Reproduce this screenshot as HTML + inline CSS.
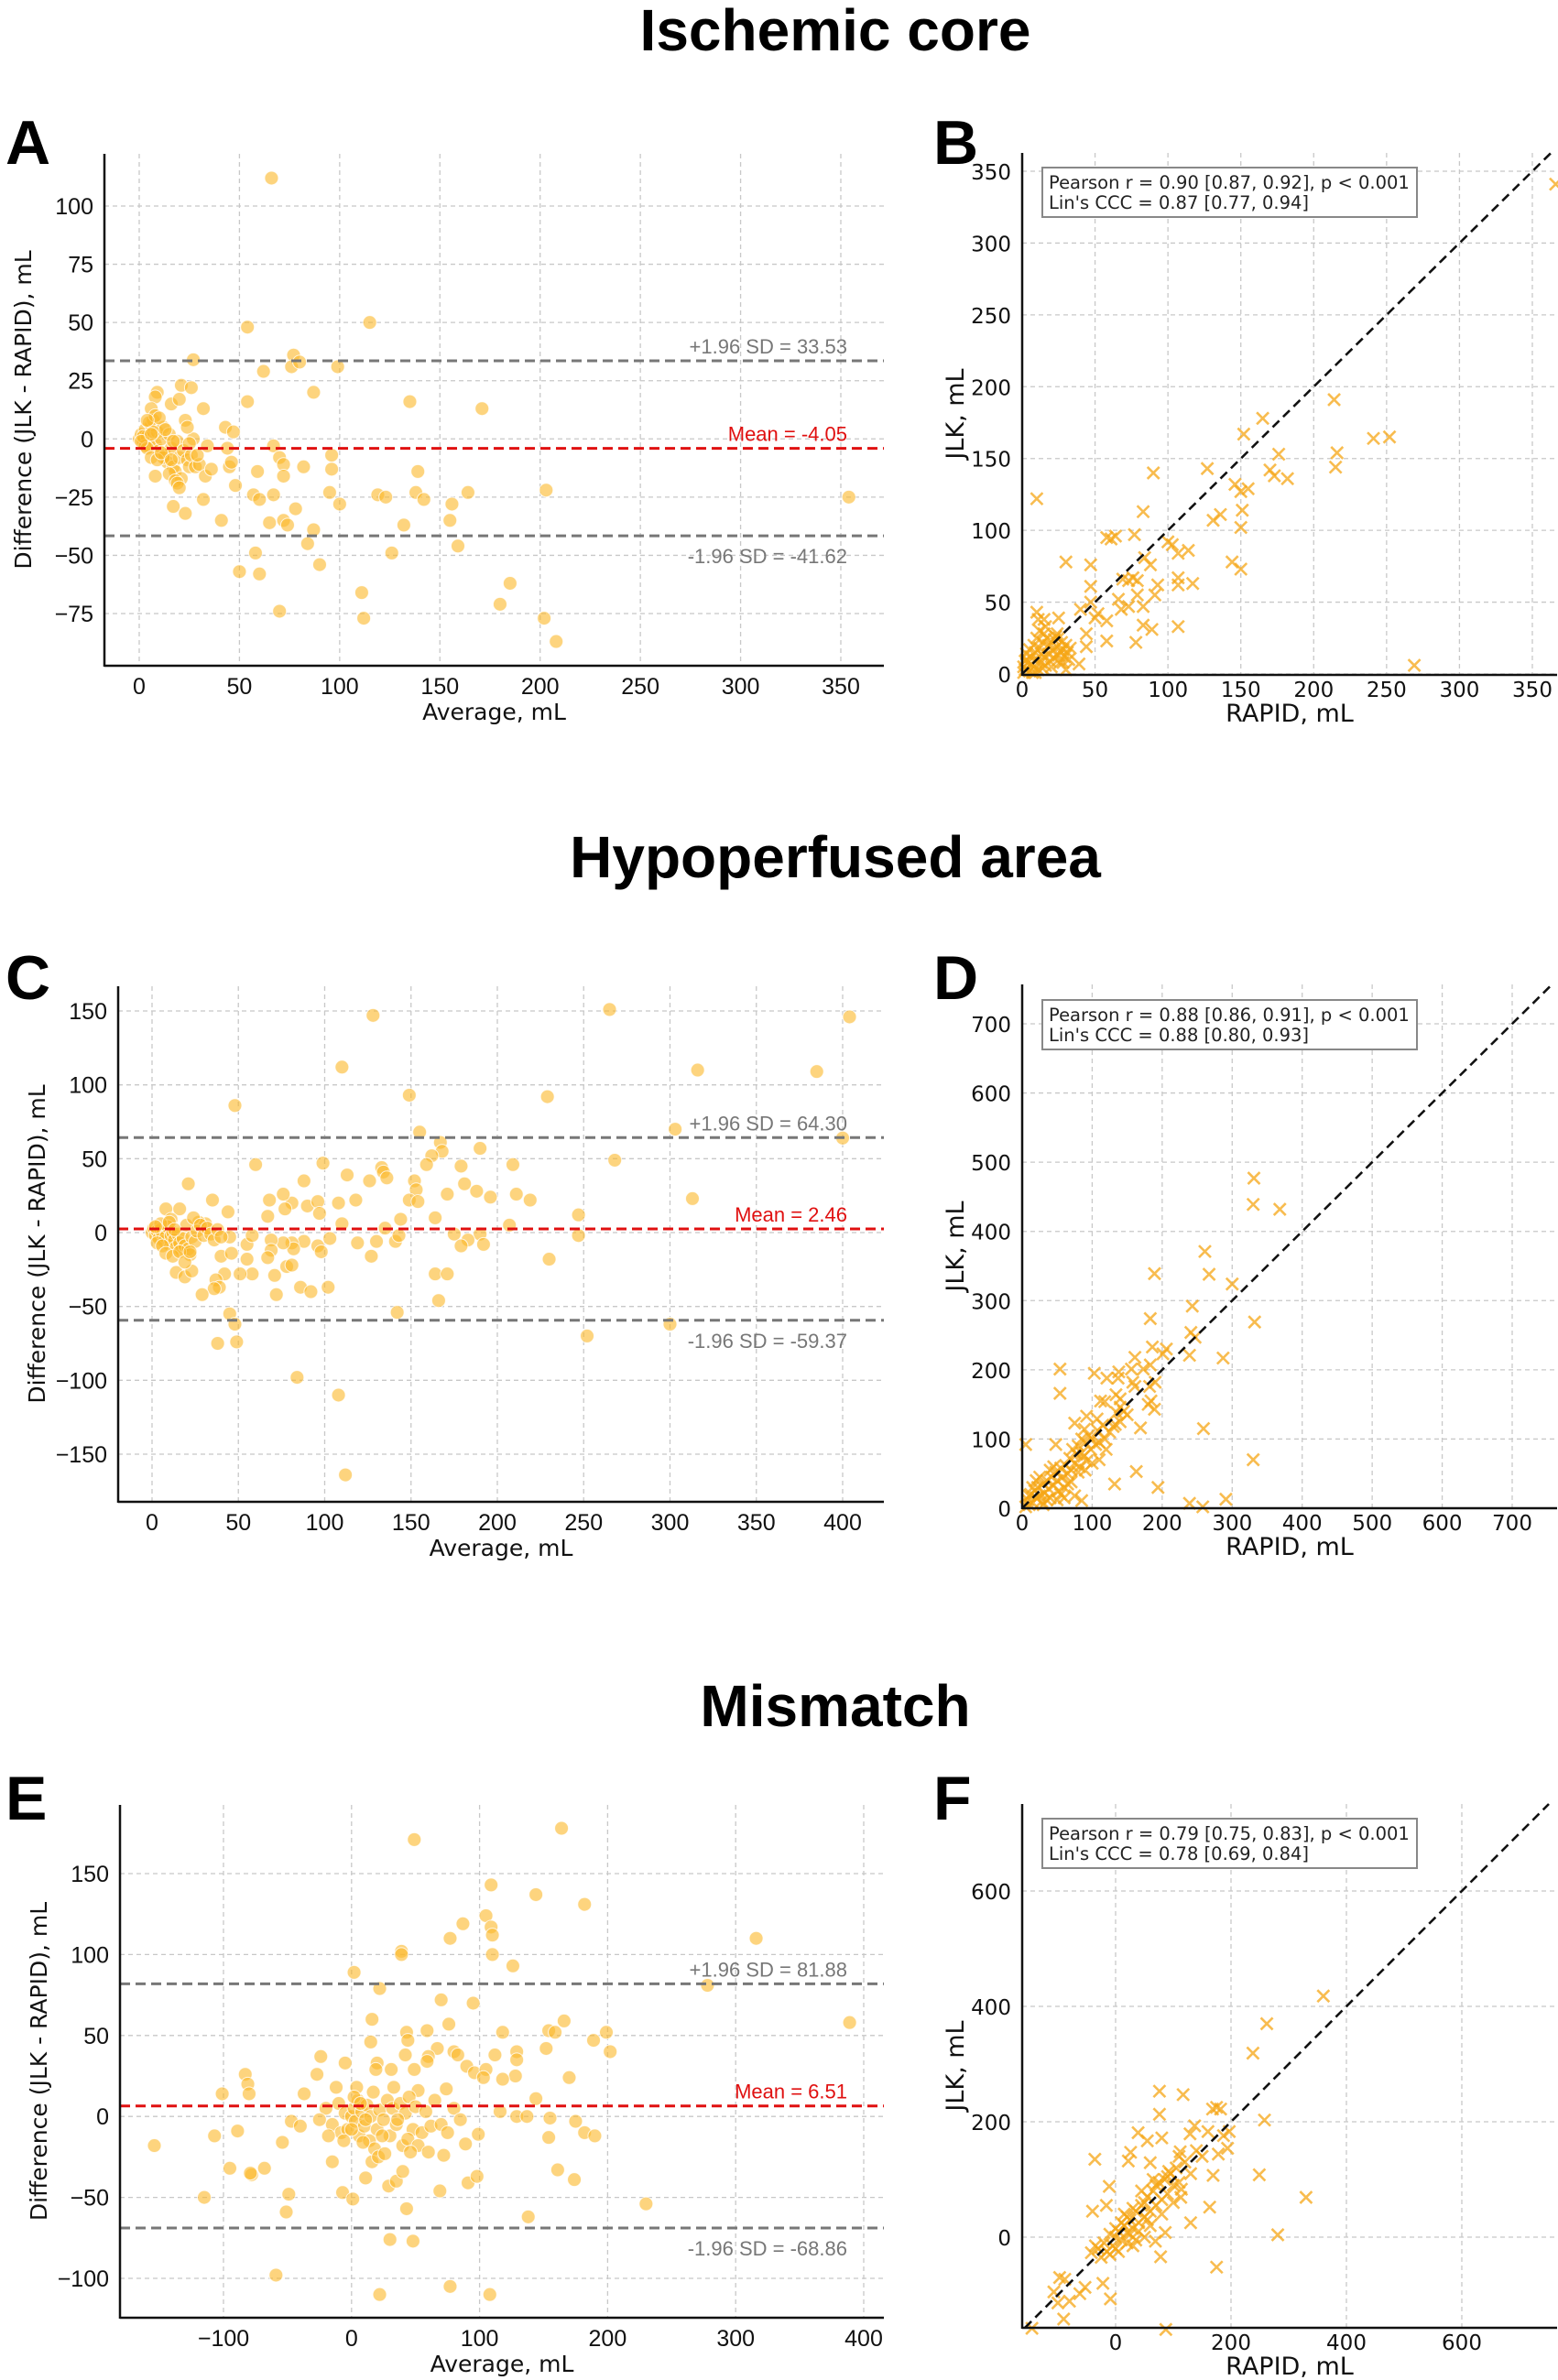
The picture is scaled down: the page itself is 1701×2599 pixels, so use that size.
<!DOCTYPE html>
<html>
<head>
<meta charset="utf-8">
<style>
html,body{margin:0;padding:0;background:#fff;}
svg{display:block;}
</style>
</head>
<body>
<svg id="fig" width="1701" height="2599" viewBox="0 0 1701 2599" xmlns="http://www.w3.org/2000/svg" font-family="'Liberation Sans', sans-serif">
<rect width="1701" height="2599" fill="#fff"/>
<text x="912" y="55" text-anchor="middle" font-size="64" font-weight="bold">Ischemic core</text>
<text x="912" y="958" text-anchor="middle" font-size="64" font-weight="bold">Hypoperfused area</text>
<text x="912" y="1885" text-anchor="middle" font-size="64" font-weight="bold">Mismatch</text>
<text x="6" y="179" font-size="68" font-weight="bold">A</text>
<text x="1019" y="179" font-size="68" font-weight="bold">B</text>
<text x="6" y="1091" font-size="68" font-weight="bold">C</text>
<text x="1019" y="1091" font-size="68" font-weight="bold">D</text>
<text x="6" y="1987" font-size="68" font-weight="bold">E</text>
<text x="1019" y="1987" font-size="68" font-weight="bold">F</text>
</svg>
<script>
// ---------- Panel A data (Bland-Altman, ischemic core) ----------
const aAvg = [66,54,115,27,77,76,80,62,99,21,26,87,54,135,171,32,16,20,9,8,6,43,47,67,70,72,82,59,72,96,96,139,48,57,67,60,95,100,119,123,138,142,164,203,354,156,32,17,23,41,78,65,72,74,87,132,155,84,159,58,126,90,50,60,185,111,180,70,112,202,208,
0,1,2,3,4,5,6,7,8,9,10,11,12,13,14,15,16,17,18,19,20,21,22,23,24,25,26,27,28,30,33,36,44,45,46,34,3,5,8,10,12,15,18,19,20,24,2,4,6,7,9,11,13,16,8,1,6,4,17,25,29];
const aDiff = [112,48,50,34,36,31,33,29,31,23,22,20,16,16,13,13,15,17,20,18,13,5,3,-3,-8,-11,-12,-14,-16,-7,-13,-14,-20,-24,-24,-26,-23,-28,-24,-25,-23,-26,-23,-22,-25,-28,-26,-29,-32,-35,-30,-36,-35,-37,-39,-37,-35,-45,-46,-49,-49,-54,-57,-58,-62,-66,-71,-74,-77,-77,-87,
0,2,-1,4,1,-3,6,8,-2,3,-5,0,5,-7,-10,2,-4,-12,-14,-1,-8,-17,-5,8,-9,-12,-7,0,-12,-11,-16,-13,-4,-12,-10,-3,-3,7,10,9,-8,-15,-18,-19,-21,5,1,-4,-8,3,-9,-6,4,-9,-16,-1,2,8,-1,-2,-7];
const aStats = [-4.05, 33.53, -41.62];
const aStatLabels = ["Mean = -4.05", "+1.96 SD = 33.53", "-1.96 SD = -41.62"];
const aXTicks = [0,50,100,150,200,250,300,350];
const aYTicks = [-75,-50,-25,0,25,50,75,100];

// ---------- Panel B data (scatter, ischemic core) ----------
const bRapid = [366,10,214,165,241,252,216,215,176,152,170,173,182,127,90,146,150,155,151,150,136,131,83,77,61,64,58,100,103,114,107,144,150,30,47,88,84,47,107,107,117,69,79,76,73,93,91,79,83,66,68,73,47,40,52,50,58,58,83,89,107,78,25,10,15,269,39,44,44,
2,4,5,6,8,9,10,11,12,13,14,15,16,17,18,19,20,21,22,23,24,25,26,27,28,29,30,31,32,33,3,7,1,5,10,12,15,20,25,28,30,3,6,8,13,18,22,26,16,11,24,9,1,2,14];
const bJlk = [341,122,191,178,164,165,154,144,153,167,142,138,136,143,140,132,127,129,114,102,111,107,113,97,94,96,95,92,90,86,84,78,73,78,76,76,81,61,67,62,63,66,65,67,65,62,55,55,47,52,45,47,50,45,42,39,37,23,34,31,33,22,39,43,38,6,7,28,19,
3,8,2,12,5,15,10,3,18,8,22,12,6,25,14,9,20,16,11,26,19,13,8,22,17,12,20,15,10,18,10,1,5,17,25,30,28,5,25,8,3,14,7,20,14,20,24,16,33,38,28,1,1,9,4];
const bTicks = [0,50,100,150,200,250,300,350];

// ---------- Panel C data (Bland-Altman, hypoperfused) ----------
const cAvg = [265,128,404,110,316,385,149,229,48,303,155,400,167,168,268,190,162,159,179,209,60,99,133,134,136,88,126,113,152,153,181,21,188,149,154,171,196,211,219,313,118,108,81,77,76,68,90,96,97,35,67,44,16,8,247,144,164,110,207,135,31,27,11,175,247,190,183,179,192,103,96,98,119,130,141,143,88,81,82,76,69,69,67,127,230,55,55,58,45,40,46,71,58,51,164,171,78,81,14,19,23,42,37,39,36,86,92,102,72,29,166,142,45,48,300,252,38,49,84,108,112,
0,1,2,3,4,5,6,7,8,9,10,11,12,13,14,15,16,17,18,19,20,21,22,23,24,25,26,28,30,32,34,36,38,40,3,6,8,12,16,19,5,10,2,13,22];
const cDiff = [151,147,146,112,110,109,93,92,86,70,68,64,61,55,49,57,52,46,45,46,46,47,44,41,37,35,35,39,35,29,33,33,28,22,21,26,24,26,22,23,22,20,20,16,26,22,18,21,13,22,11,14,16,16,12,9,10,6,5,3,6,7,9,-1,-2,-1,-5,-9,-8,-4,-9,-13,-7,-6,-6,-2,-6,-7,-11,-7,-5,-12,-17,-16,-18,-8,-18,-2,-3,-16,-14,-29,-28,-28,-28,-28,-23,-22,-27,-30,-26,-28,-32,-37,-38,-37,-40,-37,-42,-42,-46,-54,-55,-62,-62,-70,-75,-74,-98,-110,-164,
0,3,-2,1,-4,2,-1,-6,-3,4,-8,-2,0,-5,-10,-1,-7,-12,-4,-9,5,-11,-15,-3,10,-6,1,5,-2,3,-1,-5,2,-3,-7,-9,-14,-16,-13,-20,6,7,4,2,-13];
const cStats = [2.46, 64.30, -59.37];
const cStatLabels = ["Mean = 2.46", "+1.96 SD = 64.30", "-1.96 SD = -59.37"];
const cXTicks = [0,50,100,150,200,250,300,350,400];
const cYTicks = [-150,-100,-50,0,50,100,150];

// ---------- Panel D data (scatter, hypoperfused) ----------
const dRapid = [331,330,368,261,267,189,300,243,183,332,241,247,186,206,201,239,287,161,54,103,138,137,156,173,183,121,54,112,118,134,140,140,158,161,182,190,180,189,184,169,259,330,133,92,75,107,89,48,5,163,132,194,291,239,258,85,
5,8,10,12,15,18,20,22,25,28,30,32,35,38,40,42,45,48,50,52,55,58,60,62,65,68,70,72,75,78,80,82,85,88,90,92,95,98,100,105,108,110,115,120,125,130,135,140,145,150,60,55,70,75,30,20,15,10,25,35,45,50,40,65,80,85,90,100,110,118];
const dJlk = [477,439,432,371,338,339,324,292,274,269,254,247,233,230,223,221,217,218,201,195,197,188,201,201,207,188,166,155,154,164,158,146,182,176,176,182,150,143,155,116,115,70,121,133,123,129,114,92,92,53,35,30,13,7,2,11,
2,12,5,20,8,25,15,30,18,10,35,22,40,28,15,45,33,52,40,25,58,45,30,62,50,72,55,85,65,78,90,60,100,75,95,68,105,85,100,92,112,70,120,85,110,118,138,125,140,135,15,20,38,18,5,40,30,18,45,12,60,12,55,35,52,80,55,65,95,100];
const dTicks = [0,100,200,300,400,500,600,700];

// ---------- Panel E data (Bland-Altman, mismatch) ----------
const eAvg = [164,49,109,144,182,105,87,109,110,316,77,39,39,110,126,2,278,22,70,95,16,389,166,76,59,43,44,118,154,159,199,189,202,15,152,67,129,129,112,80,83,60,59,42,-24,20,19,-5,90,49,31,-27,96,105,103,170,128,118,-83,-81,-80,-101,-37,52,74,144,116,129,137,155,175,-47,-40,-107,-89,-54,154,182,190,89,99,-95,-78,-79,-68,-15,11,29,35,40,69,161,174,91,98,-7,-49,1,-115,43,-51,230,138,30,48,-59,77,22,108,-154,
-20,-15,-10,-8,-5,-3,0,2,3,5,6,8,10,12,14,15,18,20,22,25,28,30,32,35,38,40,42,45,48,50,55,58,62,65,70,75,80,85,-25,-12,-18,4,9,16,21,26,36,44,52,60,72,0,2,-6,7,11,17,24,33,46];
const eDiff = [178,171,143,137,131,124,119,117,112,110,110,102,100,100,93,89,81,79,72,70,60,58,59,57,53,52,47,52,53,52,52,47,40,46,42,42,40,35,38,40,38,37,34,38,37,33,29,33,31,29,29,26,27,29,24,24,25,23,26,20,14,14,14,16,17,11,3,0,0,-1,-3,-3,-6,-12,-9,-16,-13,-10,-12,-17,-11,-32,-36,-35,-32,-28,-38,-43,-40,-34,-46,-33,-39,-41,-37,-47,-48,-51,-50,-57,-59,-54,-62,-76,-77,-98,-105,-110,-110,-18,
5,-5,8,-10,2,-8,0,5,-3,10,-12,3,-6,7,-15,0,-20,-8,4,-2,10,-12,5,-5,8,-18,2,12,-8,6,-10,3,-6,10,-5,-10,5,-2,-2,18,-12,18,-16,-28,-25,-23,-2,-14,-18,-22,-24,-8,12,-15,8,-2,15,-12,18,-22];
const eStats = [6.51, 81.88, -68.86];
const eStatLabels = ["Mean = 6.51", "+1.96 SD = 81.88", "-1.96 SD = -68.86"];
const eXTicks = [-100,0,100,200,300,400];
const eYTicks = [-100,-50,0,50,100,150];

// ---------- Panel F data (scatter, mismatch) ----------
const fRapid = [360,262,238,76,117,76,168,175,182,258,39,55,80,129,137,160,187,197,194,178,26,112,-36,22,60,169,249,92,-11,114,113,330,-40,-16,163,130,86,281,69,78,175,-42,-22,-97,-88,-53,-62,-107,-80,-100,-9,-90,87,-145,
-30,-20,-10,-5,0,5,10,15,20,25,30,35,40,45,50,55,60,65,70,75,80,85,90,95,100,105,110,120,130,140,150,-15,-25,0,10,20,30,40,50,60,70,80,90,100,110,15,25,35,45,55,65,-35,5,50,-10,0,20,30];
const fJlk = [418,370,319,253,247,213,222,225,222,203,181,167,172,179,193,183,176,183,154,144,147,148,135,132,129,107,108,114,88,83,69,69,45,55,52,25,8,4,-7,-34,-52,-27,-80,-70,-73,-87,-98,-95,-111,-114,-107,-142,-160,-158,
-20,-10,5,-15,0,10,-5,20,8,30,15,45,25,55,35,70,45,80,55,95,65,100,75,110,90,120,95,130,110,150,140,-25,-35,-20,25,-10,50,10,60,20,90,40,105,60,140,40,5,-5,80,30,100,-15,-25,0,-30,15,35,-15];
const fTicks = [0,200,400,600];

// ---------- Rendering ----------
const NS = "http://www.w3.org/2000/svg";
const svg = document.getElementById('fig');
function mk(tag, attrs, parent){
  const e = document.createElementNS(NS, tag);
  for (const k in attrs) e.setAttribute(k, attrs[k]);
  (parent||svg).appendChild(e);
  return e;
}
function scale(p0, v0, p1, v1){ return v => p0 + (v - v0) * (p1 - p0) / (v1 - v0); }

function axesFrame(g, cfg, sx, sy, xt, yt, fontFam, fsize, xLabDy){
  xt.forEach(v=>{
    const l = mk('line',{x1:sx(v),x2:sx(v),y1:cfg.T,y2:cfg.B,stroke:'#c8c8c8','stroke-width':1.3,'stroke-dasharray':'5,4'},g);
    
    
    const t = mk('text',{x:sx(v),y:cfg.B+xLabDy,'text-anchor':'middle','font-size':fsize,'font-family':fontFam,fill:'#111'},g);
    t.textContent = String(v).replace('-','\u2212');
    
    
  });
  yt.forEach(v=>{
    const l = mk('line',{x1:cfg.L,x2:cfg.R,y1:sy(v),y2:sy(v),stroke:'#c8c8c8','stroke-width':1.3,'stroke-dasharray':'5,4'},g);
    
    
    const t = mk('text',{x:cfg.L-12,y:sy(v)+9,'text-anchor':'end','font-size':fsize,'font-family':fontFam,fill:'#111'},g);
    t.textContent = String(v).replace('-','\u2212');
    
    
  });
}
function spines(g,cfg){
  const a = mk('line',{x1:cfg.L,x2:cfg.L,y1:cfg.T,y2:cfg.B+1,stroke:'#111','stroke-width':2.5},g);
  
  
  const b = mk('line',{x1:cfg.L,x2:cfg.R,y1:cfg.B,y2:cfg.B,stroke:'#111','stroke-width':2.5},g);
  
  
}
function axisTitles(g,cfg,xt,yt,fontFam,fsize,xTitleY,yTitleX){
  const tx = mk('text',{x:(cfg.L+cfg.R)/2,y:xTitleY,'text-anchor':'middle','font-size':fsize,'font-family':fontFam,fill:'#111'},g);
  tx.textContent = xt;
  
  
  const cy = (cfg.T+cfg.B)/2;
  const ty = mk('text',{x:yTitleX,y:cy,'text-anchor':'middle','font-size':fsize,'font-family':fontFam,fill:'#111',transform:`rotate(-90 ${yTitleX} ${cy})`},g);
  ty.textContent = yt;
  
  
}

const BAFONT = "'Liberation Sans Narrow','Liberation Sans',sans-serif";
const SCFONT = "'DejaVu Sans','Liberation Sans',sans-serif";

function blandAltman(name, cfg, avg, diff, stats, statLabels, xt, yt){
  const g = mk('g',{});
  
  
  const sx = scale(cfg.xp0,cfg.xv0,cfg.xp1,cfg.xv1);
  const sy = scale(cfg.yp0,cfg.yv0,cfg.yp1,cfg.yv1);
  axesFrame(g,cfg,sx,sy,xt,yt,BAFONT,25,31);
  for (let i=0;i<avg.length;i++){
    const c = mk('circle',{cx:sx(avg[i]),cy:sy(diff[i]),r:7.5,fill:'rgba(251,184,40,0.6)',stroke:'rgba(255,255,255,0.8)','stroke-width':1},g);
    
    
  }
  const colors = ['#e01010','#777','#777'];
  const names = ['mean-line','upper-loa-line','lower-loa-line'];
  for (let k=0;k<3;k++){
    const y = sy(stats[k]);
    const l = mk('line',{x1:cfg.L,x2:cfg.R,y1:y,y2:y,stroke:colors[k],'stroke-width':3,'stroke-dasharray':'11,6'},g);
    
    
    const t = mk('text',{x:cfg.R-40,y:(k===2? y+30 : y-8),'text-anchor':'end','font-size':22,'font-family':BAFONT,fill:colors[k]},g);
    t.textContent = statLabels[k];
    
    
  }
  spines(g,cfg);
  axisTitles(g,cfg,'Average, mL','Difference (JLK - RAPID), mL',SCFONT,25,cfg.B+59,cfg.L-80);
}

function scatterPanel(name, cfg, rx, jy, ticksX, ticksY, lines){
  const g = mk('g',{});
  
  
  const sx = scale(cfg.xp0,cfg.xv0,cfg.xp1,cfg.xv1);
  const sy = scale(cfg.yp0,cfg.yv0,cfg.yp1,cfg.yv1);
  axesFrame(g,cfg,sx,sy,ticksX,ticksY,SCFONT,23,24);
  const s = 6.5;
  for (let i=0;i<rx.length;i++){
    const x = sx(rx[i]), y = sy(jy[i]);
    const p = mk('path',{d:`M${x-s},${y-s}L${x+s},${y+s}M${x-s},${y+s}L${x+s},${y-s}`,stroke:'rgba(245,165,20,0.75)','stroke-width':2.6,fill:'none'},g);
    
    
  }
  const xmin = cfg.xv0 + (cfg.L - cfg.xp0)*(cfg.xv1-cfg.xv0)/(cfg.xp1-cfg.xp0);
  const xmax = cfg.xv0 + (cfg.R - cfg.xp0)*(cfg.xv1-cfg.xv0)/(cfg.xp1-cfg.xp0);
  const ymin = cfg.yv0 + (cfg.B - cfg.yp0)*(cfg.yv1-cfg.yv0)/(cfg.yp1-cfg.yp0);
  const ymax = cfg.yv0 + (cfg.T - cfg.yp0)*(cfg.yv1-cfg.yv0)/(cfg.yp1-cfg.yp0);
  const lo = Math.max(xmin,ymin), hi = Math.min(xmax,ymax);
  const d = mk('line',{x1:sx(lo),y1:sy(lo),x2:sx(hi),y2:sy(hi),stroke:'#111','stroke-width':2.6,'stroke-dasharray':'10,6'},g);
  
  
  spines(g,cfg);
  const box = mk('rect',{x:1138,y:cfg.boxY,width:409,height:54,fill:'#fff',stroke:'#888','stroke-width':2},g);
  
  
  const t1 = mk('text',{x:1145,y:cfg.boxY+23,'font-size':19.5,'font-family':SCFONT,fill:'#222'},g);
  t1.textContent = lines[0];
  
  
  const t2 = mk('text',{x:1145,y:cfg.boxY+45,'font-size':19.5,'font-family':SCFONT,fill:'#222'},g);
  t2.textContent = lines[1];
  
  
  axisTitles(g,cfg,'RAPID, mL','JLK, mL',SCFONT,27,cfg.B+51,cfg.L-64);
}

blandAltman('panel-a-bland-altman',{L:114,R:965,T:168,B:727,xp0:152,xv0:0,xp1:918,xv1:350,yp0:225,yv0:100,yp1:670,yv1:-75},aAvg,aDiff,aStats,aStatLabels,aXTicks,aYTicks);
blandAltman('panel-c-bland-altman',{L:129,R:965,T:1077,B:1640,xp0:166,xv0:0,xp1:920,xv1:400,yp0:1104,yv0:150,yp1:1588,yv1:-150},cAvg,cDiff,cStats,cStatLabels,cXTicks,cYTicks);
blandAltman('panel-e-bland-altman',{L:131,R:965,T:1971,B:2531,xp0:244,xv0:-100,xp1:943,xv1:400,yp0:2046,yv0:150,yp1:2488,yv1:-100},eAvg,eDiff,eStats,eStatLabels,eXTicks,eYTicks);

scatterPanel('panel-b-scatter',{L:1116,R:1700,T:167,B:737,xp0:1116,xv0:0,xp1:1673,xv1:350,yp0:736,yv0:0,yp1:187,yv1:350,boxY:183},bRapid,bJlk,bTicks,bTicks,["Pearson r = 0.90 [0.87, 0.92], p < 0.001","Lin's CCC = 0.87 [0.77, 0.94]"]);
scatterPanel('panel-d-scatter',{L:1116,R:1700,T:1075,B:1647,xp0:1116,xv0:0,xp1:1651,xv1:700,yp0:1647,yv0:0,yp1:1118,yv1:700,boxY:1092},dRapid,dJlk,dTicks,dTicks,["Pearson r = 0.88 [0.86, 0.91], p < 0.001","Lin's CCC = 0.88 [0.80, 0.93]"]);
scatterPanel('panel-f-scatter',{L:1116,R:1700,T:1970,B:2542,xp0:1218,xv0:0,xp1:1596,xv1:600,yp0:2443,yv0:0,yp1:2065,yv1:600,boxY:1986},fRapid,fJlk,fTicks,fTicks,["Pearson r = 0.79 [0.75, 0.83], p < 0.001","Lin's CCC = 0.78 [0.69, 0.84]"]);
</script>
</body>
</html>
